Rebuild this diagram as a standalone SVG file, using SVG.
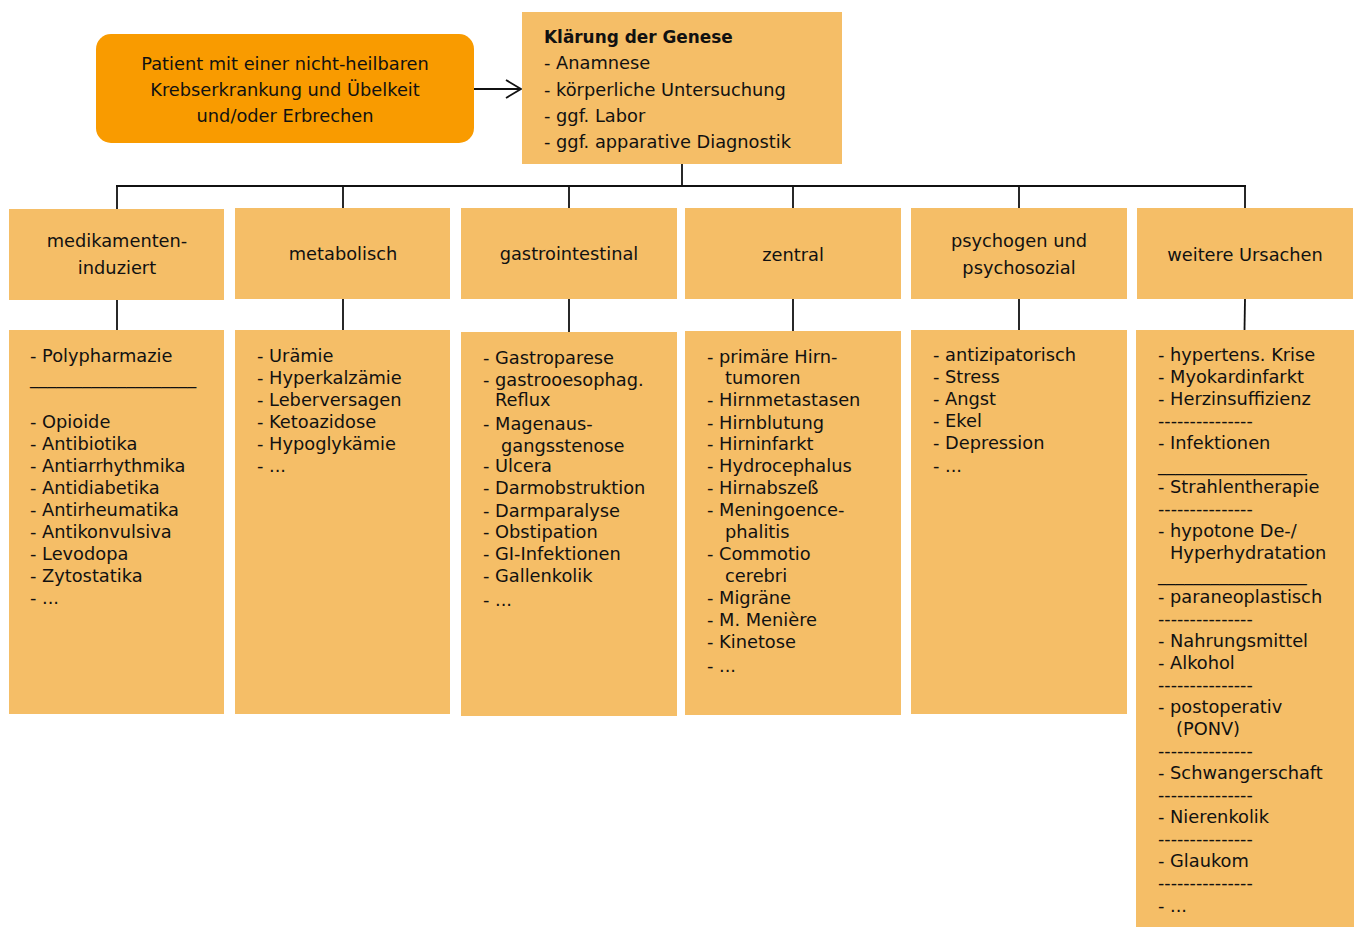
<svg xmlns="http://www.w3.org/2000/svg" width="1359" height="928" viewBox="0 0 1359 928">
<style>
.box{fill:#F5BE67}
.start{fill:#F99B00}
text{font-family:"DejaVu Sans","Liberation Sans",sans-serif;font-size:17.8px;fill:#111}
.hd{text-anchor:middle}
.b{font-weight:bold;font-size:16.9px}
.r{font-size:17.5px}
.ln{stroke:#111;stroke-width:1.8;fill:none}
</style>
<defs>
<marker id="arr" markerWidth="18" markerHeight="20" refX="16" refY="10" orient="auto" markerUnits="userSpaceOnUse">
<path d="M1,1 L16,10 L1,19" fill="none" stroke="#111" stroke-width="1.8"/>
</marker>
</defs>
<rect width="1359" height="928" fill="#fff"/>
<g id="connectors">
<line class="ln" x1="474" y1="89" x2="521" y2="89" marker-end="url(#arr)"/>
<line class="ln" x1="682" y1="164" x2="682" y2="186"/>
<line class="ln" x1="116" y1="186" x2="1246" y2="186" stroke-width="2"/>
<line class="ln" x1="117" y1="186" x2="117" y2="209"/>
<line class="ln" x1="343" y1="186" x2="343" y2="208"/>
<line class="ln" x1="569" y1="186" x2="569" y2="208"/>
<line class="ln" x1="793" y1="186" x2="793" y2="208"/>
<line class="ln" x1="1019" y1="186" x2="1019" y2="208"/>
<line class="ln" x1="1245" y1="186" x2="1245" y2="208"/>
<line class="ln" x1="117" y1="300" x2="117" y2="330"/>
<line class="ln" x1="343" y1="299" x2="343" y2="330"/>
<line class="ln" x1="569" y1="299" x2="569" y2="332"/>
<line class="ln" x1="793" y1="299" x2="793" y2="331"/>
<line class="ln" x1="1019" y1="299" x2="1019" y2="330"/>
<line class="ln" x1="1245" y1="299" x2="1244.5" y2="330"/>
</g>
<g id="start">
<rect class="start" x="96" y="34" width="378" height="109" rx="15"/>
<text class="hd" x="285" y="70">Patient mit einer nicht-heilbaren</text>
<text class="hd" x="285" y="96">Krebserkrankung und Übelkeit</text>
<text class="hd" x="285" y="122">und/oder Erbrechen</text>
</g>
<g id="genese">
<rect class="box" x="522" y="12" width="320" height="152"/>
<text class="b" x="544" y="43">Klärung der Genese</text>
<text x="544" y="69">- Anamnese</text>
<text x="544" y="96">- körperliche Untersuchung</text>
<text x="544" y="122">- ggf. Labor</text>
<text x="544" y="148">- ggf. apparative Diagnostik</text>
</g>
<g id="h1">
<rect class="box" x="9" y="209" width="215" height="91"/>
<text class="hd" x="117" y="247">medikamenten-</text>
<text class="hd" x="117" y="274">induziert</text>
</g>
<g id="h2">
<rect class="box" x="235" y="208" width="215" height="91"/>
<text class="hd" x="343" y="260">metabolisch</text>
</g>
<g id="h3">
<rect class="box" x="461" y="208" width="216" height="91"/>
<text class="hd" x="569" y="260">gastrointestinal</text>
</g>
<g id="h4">
<rect class="box" x="685" y="208" width="216" height="91"/>
<text class="hd" x="793" y="261">zentral</text>
</g>
<g id="h5">
<rect class="box" x="911" y="208" width="216" height="91"/>
<text class="hd" x="1019" y="247">psychogen und</text>
<text class="hd" x="1019" y="274">psychosozial</text>
</g>
<g id="h6">
<rect class="box" x="1137" y="208" width="216" height="91"/>
<text class="hd" x="1245" y="261">weitere Ursachen</text>
</g>
<g id="d1">
<rect class="box" x="9" y="330" width="215" height="384"/>
<text x="30" y="362">- Polypharmazie</text>
<text class="r" x="30" y="384">___________________</text>
<text x="30" y="428">- Opioide</text>
<text x="30" y="450">- Antibiotika</text>
<text x="30" y="472">- Antiarrhythmika</text>
<text x="30" y="494">- Antidiabetika</text>
<text x="30" y="516">- Antirheumatika</text>
<text x="30" y="538">- Antikonvulsiva</text>
<text x="30" y="560">- Levodopa</text>
<text x="30" y="582">- Zytostatika</text>
<text x="30" y="604">- ...</text>
</g>
<g id="d2">
<rect class="box" x="235" y="330" width="215" height="384"/>
<text x="257" y="362">- Urämie</text>
<text x="257" y="384">- Hyperkalzämie</text>
<text x="257" y="406">- Leberversagen</text>
<text x="257" y="428">- Ketoazidose</text>
<text x="257" y="450">- Hypoglykämie</text>
<text x="257" y="472">- ...</text>
</g>
<g id="d3">
<rect class="box" x="461" y="332" width="216" height="384"/>
<text x="483" y="364">- Gastroparese</text>
<text x="483" y="386">- gastrooesophag.</text>
<text x="495" y="406">Reflux</text>
<text x="483" y="430">- Magenaus-</text>
<text x="501" y="452">gangsstenose</text>
<text x="483" y="472">- Ulcera</text>
<text x="483" y="494">- Darmobstruktion</text>
<text x="483" y="517">- Darmparalyse</text>
<text x="483" y="538">- Obstipation</text>
<text x="483" y="560">- GI-Infektionen</text>
<text x="483" y="582">- Gallenkolik</text>
<text x="483" y="606">- ...</text>
</g>
<g id="d4">
<rect class="box" x="685" y="331" width="216" height="384"/>
<text x="707" y="363">- primäre Hirn-</text>
<text x="725" y="384">tumoren</text>
<text x="707" y="406">- Hirnmetastasen</text>
<text x="707" y="429">- Hirnblutung</text>
<text x="707" y="450">- Hirninfarkt</text>
<text x="707" y="472">- Hydrocephalus</text>
<text x="707" y="494">- Hirnabszeß</text>
<text x="707" y="516">- Meningoence-</text>
<text x="725" y="538">phalitis</text>
<text x="707" y="560">- Commotio</text>
<text x="725" y="582">cerebri</text>
<text x="707" y="604">- Migräne</text>
<text x="707" y="626">- M. Menière</text>
<text x="707" y="648">- Kinetose</text>
<text x="707" y="672">- ...</text>
</g>
<g id="d5">
<rect class="box" x="911" y="330" width="216" height="384"/>
<text x="933" y="361">- antizipatorisch</text>
<text x="933" y="383">- Stress</text>
<text x="933" y="405">- Angst</text>
<text x="933" y="427">- Ekel</text>
<text x="933" y="449">- Depression</text>
<text x="933" y="472">- ...</text>
</g>
<g id="d6">
<rect class="box" x="1136" y="330" width="218" height="597"/>
<text x="1158" y="361">- hypertens. Krise</text>
<text x="1158" y="383">- Myokardinfarkt</text>
<text x="1158" y="405">- Herzinsuffizienz</text>
<text class="r" x="1158" y="427">---------------</text>
<text x="1158" y="449">- Infektionen</text>
<text class="r" x="1158" y="471">_________________</text>
<text x="1158" y="493">- Strahlentherapie</text>
<text class="r" x="1158" y="515">---------------</text>
<text x="1158" y="537">- hypotone De-/</text>
<text x="1170" y="559">Hyperhydratation</text>
<text class="r" x="1158" y="581">_________________</text>
<text x="1158" y="603">- paraneoplastisch</text>
<text class="r" x="1158" y="625">---------------</text>
<text x="1158" y="647">- Nahrungsmittel</text>
<text x="1158" y="669">- Alkohol</text>
<text class="r" x="1158" y="691">---------------</text>
<text x="1158" y="713">- postoperativ</text>
<text x="1176" y="735">(PONV)</text>
<text class="r" x="1158" y="757">---------------</text>
<text x="1158" y="779">- Schwangerschaft</text>
<text class="r" x="1158" y="801">---------------</text>
<text x="1158" y="823">- Nierenkolik</text>
<text class="r" x="1158" y="845">---------------</text>
<text x="1158" y="867">- Glaukom</text>
<text class="r" x="1158" y="889">---------------</text>
<text x="1158" y="912">- ...</text>
</g>
</svg>
